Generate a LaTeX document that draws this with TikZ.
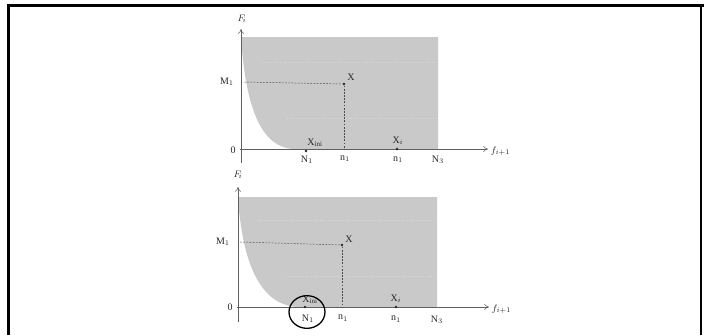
\documentclass[tikz,border=0pt]{standalone}
\usepackage{fontspec}
\setmainfont{Liberation Serif}
\usetikzlibrary{arrows.meta,shapes.geometric}
\begin{document}
\begin{tikzpicture}[x=0.3mm,y=-0.3mm,
  ax/.style={draw=gray!75!black, line width=0.45pt, -{To[length=4pt,width=5pt]}},
  lbl/.style={font=\fontsize{8.5}{9}\selectfont, inner sep=0.5pt, text=black!85},
  pt/.style={circle, fill=black!85, inner sep=0pt, minimum size=2.4pt},
  region/.style={fill=black!21, draw=none},
  guide/.style={draw=black!70, line width=0.4pt, dash pattern=on 1.5pt off 1.2pt},
  texture/.style={draw=white!70!gray, line width=0.5pt, dotted},
  frameline/.style={draw=black, line width=0.9mm}
]
\useasboundingbox (0,0) rectangle (704,335);
% frame
\draw[frameline] (8.5,335) -- (8.5,5.5) -- (704,5.5);
\draw[line width=0.6mm] (700.5,4) -- (700.5,335);

% ---------- top plot ----------
\path[region] (241,37) -- (438,37) -- (438,149) -- (293,149)
  .. controls (264,147) and (246,115) .. (241,37) -- cycle;
\draw[texture] (287,118) -- (437,118);
\draw[texture] (262,62) -- (437,62);
\coordinate (yb1) at (241,163);
\coordinate (yt1) at (241,29);
\coordinate (o1) at (240,149);
\coordinate (xe1) at (488,149);
\draw[ax] (yb1) -- (yt1);
\draw[ax] (o1) -- (xe1);
\node[lbl] (F1) at (242,19) {$F_{\!i}$};
\node[lbl, anchor=west] (fx1) at (490,151) {$f_{i+1}$};
\node[lbl] (M1) at (227,82) {M$_1$};
\node[lbl] (z1) at (233,150) {0};
\node[pt] (X1) at (344,84) {};
\node[lbl] (X1l) at (351,77) {X};
\coordinate (M1a) at (244,82);
\coordinate (X1b) at (344,149);
\draw[guide] (M1a) -- (X1);
\draw[guide] (X1) -- (X1b);
\node[pt] (Xini1) at (306,151) {};
\node[lbl] (Xini1l) at (315,143) {X$_{\mathrm{ini}}$};
\node[pt] (Xi1) at (397,149) {};
\node[lbl] (Xi1l) at (398,141) {X$_i$};
\node[lbl] (N11) at (307,160) {N$_1$};
\node[lbl] (n21) at (345,159) {n$_1$};
\node[lbl] (n11) at (398,160) {n$_1$};
\node[lbl] (N31) at (438,160) {N$_3$};

% ---------- bottom plot ----------
\path[region] (238,197) -- (437,197) -- (437,307) -- (297,307)
  .. controls (266,305) and (243,275) .. (238,197) -- cycle;
\draw[texture] (285,276) -- (436,276);
\draw[texture] (258,220) -- (436,220);
\coordinate (yb2) at (238,322);
\coordinate (yt2) at (238,187);
\coordinate (o2) at (237,307);
\coordinate (xe2) at (489,307);
\draw[ax] (yb2) -- (yt2);
\draw[ax] (o2) -- (xe2);
\node[lbl] (F2) at (238,175) {$F_{\!i}$};
\node[lbl, anchor=west] (fx2) at (491,309) {$f_{i+1}$};
\node[lbl] (M2) at (223,242) {M$_1$};
\node[lbl] (z2) at (230,307) {0};
\node[pt] (X2) at (342,245) {};
\node[lbl] (X2l) at (349,239) {X};
\coordinate (M2a) at (240,242);
\coordinate (X2b) at (342,307);
\draw[guide] (M2a) -- (X2);
\draw[guide] (X2) -- (X2b);
\node[pt] (Xini2) at (305,307) {};
\node[lbl] (Xini2l) at (310,300) {X$_{\mathrm{ini}}$};
\node[pt] (Xi2) at (396,307) {};
\node[lbl] (Xi2l) at (396,299) {X$_i$};
\node[lbl] (N12) at (308,319) {N$_1$};
\node[lbl] (n22) at (343,318) {n$_1$};
\node[lbl] (n12) at (396,319) {n$_1$};
\node[lbl] (N32) at (437,320) {N$_3$};
\node[draw=black, line width=1.1pt, ellipse, minimum width=10.8mm, minimum height=9.8mm, inner sep=0pt] (circ) at (307,312) {};
\end{tikzpicture}
\end{document}
